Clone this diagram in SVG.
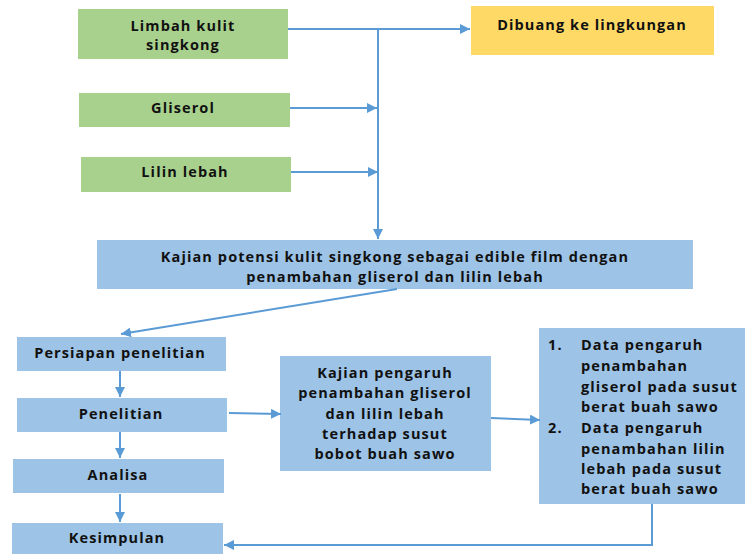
<svg xmlns="http://www.w3.org/2000/svg" width="745" height="555" viewBox="0 0 745 555">
<style>
.g{fill:#A9D18E}.y{fill:#FFD966}.b{fill:#9DC3E6}
text{font-family:"Open Sans","Liberation Sans",sans-serif;font-weight:bold;font-size:14.5px;letter-spacing:1.1px;fill:#111;dominant-baseline:central}
.c{text-anchor:middle}
.ln{stroke:#5B9BD5;stroke-width:2;fill:none}
</style>
<defs>
<marker id="ah" viewBox="0 0 10 10" refX="10" refY="5" markerWidth="5" markerHeight="5" orient="auto" markerUnits="strokeWidth">
<path d="M0,0L10,5L0,10z" fill="#5B9BD5"/>
</marker>
</defs>
<rect width="745" height="555" fill="#fff"/>
<g id="limbah"><rect class="g" x="78" y="9" width="210" height="50"/><text class="c" x="183" y="25">Limbah kulit</text><text class="c" x="183" y="44">singkong</text></g>
<g id="gliserol"><rect class="g" x="79" y="93" width="211" height="34"/><text class="c" x="183" y="107">Gliserol</text></g>
<g id="lilin"><rect class="g" x="81" y="157" width="210" height="35"/><text class="c" x="185" y="171">Lilin lebah</text></g>
<g id="dibuang"><rect class="y" x="471" y="6" width="243" height="49"/><text class="c" x="592" y="24">Dibuang ke lingkungan</text></g>
<g id="kajian"><rect class="b" x="97" y="240" width="596" height="49"/><text class="c" x="395" y="256">Kajian potensi kulit singkong sebagai edible film dengan</text><text class="c" x="395" y="276">penambahan gliserol dan lilin lebah</text></g>
<g id="persiapan"><rect class="b" x="17" y="337" width="209" height="34"/><text class="c" x="120" y="352">Persiapan penelitian</text></g>
<g id="penelitian"><rect class="b" x="17" y="398" width="210" height="34"/><text class="c" x="121" y="413">Penelitian</text></g>
<g id="analisa"><rect class="b" x="13" y="459" width="211" height="34"/><text class="c" x="118" y="474">Analisa</text></g>
<g id="kesimpulan"><rect class="b" x="12" y="523" width="211" height="31"/><text class="c" x="117" y="537">Kesimpulan</text></g>
<g id="pengaruh"><rect class="b" x="280" y="356" width="211" height="115"/>
<text class="c" x="385" y="372">Kajian pengaruh</text><text class="c" x="385" y="392">penambahan gliserol</text><text class="c" x="385" y="413">dan lilin lebah</text><text class="c" x="385" y="433">terhadap susut</text><text class="c" x="385" y="453">bobot buah sawo</text></g>
<g id="data"><rect class="b" x="539" y="328" width="210" height="176"/>
<text x="548" y="344">1.</text><text x="581" y="344">Data pengaruh</text><text x="581" y="365">penambahan</text><text x="581" y="386">gliserol pada susut</text><text x="581" y="406">berat buah sawo</text>
<text x="548" y="427">2.</text><text x="581" y="427">Data pengaruh</text><text x="581" y="448">penambahan lilin</text><text x="581" y="468">lebah pada susut</text><text x="581" y="488">berat buah sawo</text></g>
<g id="connectors">
<path class="ln" d="M288,29H470" marker-end="url(#ah)"/>
<path class="ln" d="M378,29V239" marker-end="url(#ah)"/>
<path class="ln" d="M290,108H377" marker-end="url(#ah)"/>
<path class="ln" d="M291,172H378" marker-end="url(#ah)"/>
<path class="ln" d="M397,289L121,334" marker-end="url(#ah)"/>
<path class="ln" d="M120,371V397" marker-end="url(#ah)"/>
<path class="ln" d="M120,432V458" marker-end="url(#ah)"/>
<path class="ln" d="M120,494V522" marker-end="url(#ah)"/>
<path class="ln" d="M229,413L281,414" marker-end="url(#ah)"/>
<path class="ln" d="M491,418L540,420" marker-end="url(#ah)"/>
<path class="ln" d="M652,504V545H224" marker-end="url(#ah)"/>
</g>
</svg>
